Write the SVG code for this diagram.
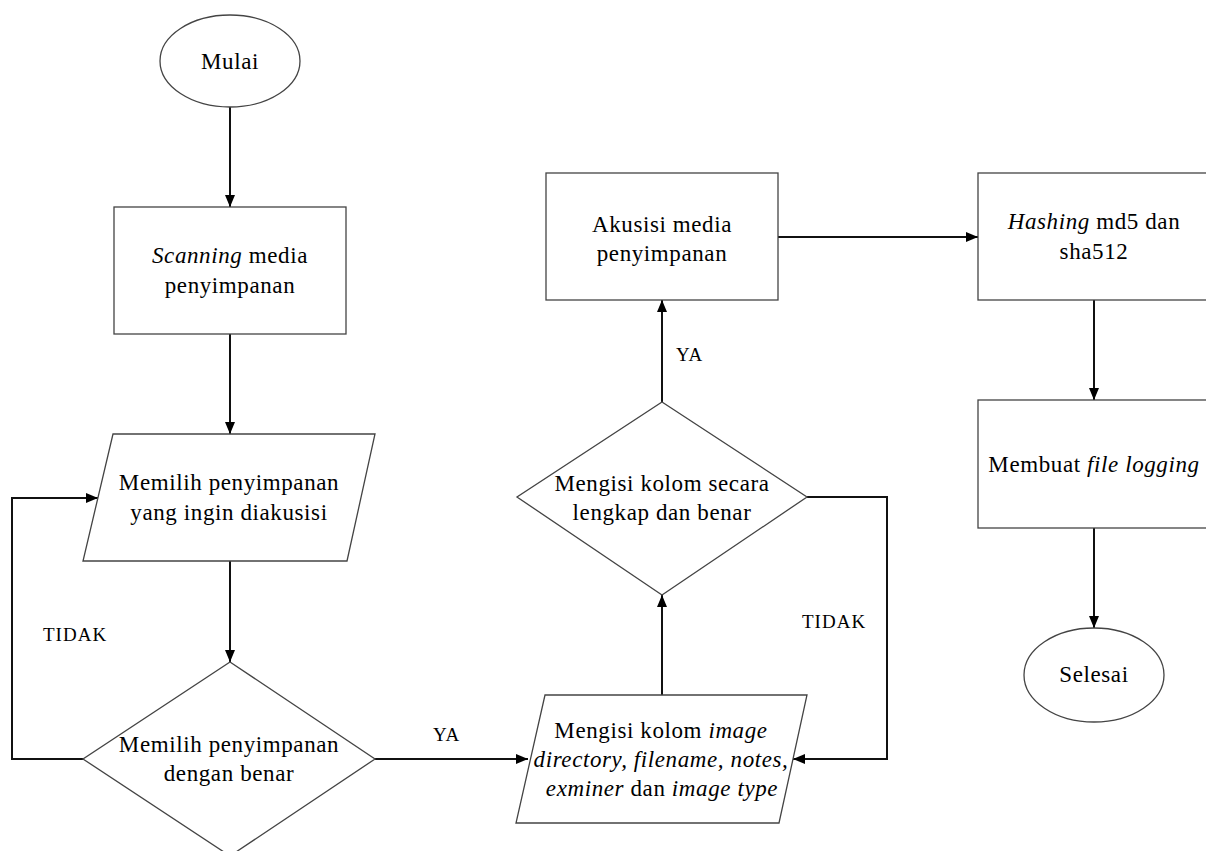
<svg xmlns="http://www.w3.org/2000/svg" width="1206" height="851" viewBox="0 0 1206 851">
<defs>
<marker id="ah" viewBox="0 0 12 10" refX="12" refY="5" markerWidth="12" markerHeight="10" markerUnits="userSpaceOnUse" orient="auto">
<path d="M0,0 L12,5 L0,10 Z" fill="#000"/>
</marker>
</defs>
<style>
.shape{fill:#fff;stroke:#444;stroke-width:1.3}
.conn{fill:none;stroke:#111;stroke-width:2;marker-end:url(#ah)}
text{font-family:"Liberation Serif","Times New Roman",serif;font-size:23px;fill:#000;text-anchor:middle;letter-spacing:0.6px}
.lbl{font-size:19px;text-anchor:start;letter-spacing:1px}
.i{font-style:italic}
</style>
<rect width="1206" height="851" fill="#fff"/>

<g id="connectors">
<line class="conn" x1="230" y1="107" x2="230" y2="207"/>
<line class="conn" x1="230" y1="334" x2="230" y2="434"/>
<line class="conn" x1="230" y1="561" x2="230" y2="662"/>
<polyline class="conn" points="83,759 12,759 12,498 98,498"/>
<line class="conn" x1="375" y1="759" x2="528" y2="759"/>
<line class="conn" x1="662" y1="695" x2="662" y2="595"/>
<polyline class="conn" points="807,497 887,497 887,759 793,759"/>
<line class="conn" x1="662" y1="402" x2="662" y2="300"/>
<line class="conn" x1="778" y1="237" x2="978" y2="237"/>
<line class="conn" x1="1094" y1="300" x2="1094" y2="400"/>
<line class="conn" x1="1094" y1="528" x2="1094" y2="628"/>
<text class="lbl" x="43" y="641">TIDAK</text>
<text class="lbl" x="433" y="741">YA</text>
<text class="lbl" x="802" y="628">TIDAK</text>
<text class="lbl" x="676" y="361">YA</text>
</g>

<g id="mulai">
<ellipse class="shape" cx="230" cy="61" rx="70" ry="46"/>
<text x="230" y="69">Mulai</text>
</g>

<g id="scanning">
<rect class="shape" x="114" y="207" width="232" height="127"/>
<text x="230" y="263"><tspan class="i">Scanning</tspan> media</text>
<text x="230" y="293">penyimpanan</text>
</g>

<g id="memilih">
<polygon class="shape" points="113,434 375,434 347,561 83,561"/>
<text x="229" y="490">Memilih penyimpanan</text>
<text x="229" y="520">yang ingin diakusisi</text>
</g>

<g id="decision1">
<polygon class="shape" points="230,662 375,759 230,856 83,759"/>
<text x="229" y="752">Memilih penyimpanan</text>
<text x="229" y="781">dengan benar</text>
</g>

<g id="mengisi">
<polygon class="shape" points="545,695 807,695 779,823 516,823"/>
<text x="661" y="738">Mengisi kolom <tspan class="i">image</tspan></text>
<text x="661" y="767" class="i">directory, filename, notes,</text>
<text x="662" y="796"><tspan class="i">exminer</tspan> dan <tspan class="i">image type</tspan></text>
</g>

<g id="decision2">
<polygon class="shape" points="662,402 807,497 662,595 517,497"/>
<text x="662" y="491">Mengisi kolom secara</text>
<text x="662" y="520">lengkap dan benar</text>
</g>

<g id="akusisi">
<rect class="shape" x="546" y="173" width="232" height="127"/>
<text x="662" y="232">Akusisi media</text>
<text x="662" y="261">penyimpanan</text>
</g>

<g id="hashing">
<rect class="shape" x="978" y="173" width="232" height="127"/>
<text x="1094" y="229"><tspan class="i">Hashing</tspan> md5 dan</text>
<text x="1094" y="259">sha512</text>
</g>

<g id="logging">
<rect class="shape" x="978" y="400" width="232" height="128"/>
<text x="1094" y="472">Membuat <tspan class="i">file logging</tspan></text>
</g>

<g id="selesai">
<ellipse class="shape" cx="1094" cy="675" rx="70" ry="47"/>
<text x="1094" y="682">Selesai</text>
</g>
</svg>
